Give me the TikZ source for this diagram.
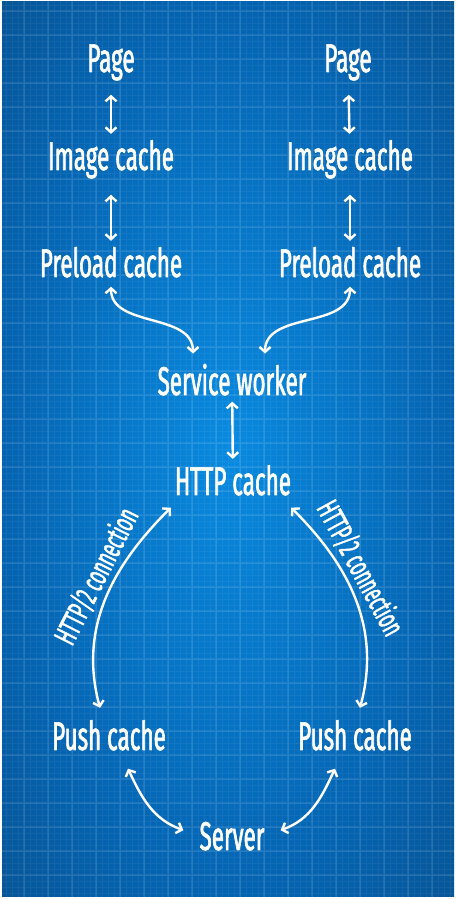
\documentclass[tikz,border=0pt]{standalone}
\usepackage{fontspec}
\setmainfont{Fira Sans}[FakeStretch=0.56,FakeBold=1.5]
\usetikzlibrary{arrows.meta}
\definecolor{bpA}{RGB}{8,138,224}
\definecolor{bpB}{RGB}{4,100,178}
\definecolor{bpC}{RGB}{8,68,120}
\definecolor{bpD}{RGB}{10,42,76}
\pgfdeclareradialshading{blueprint}{\pgfpoint{0bp}{0bp}}{color(0bp)=(bpA); color(17bp)=(bpB); color(34bp)=(bpC); color(50bp)=(bpD)}
\begin{document}
\begin{tikzpicture}[x=1pt,y=1pt,line join=round,line cap=round,
    >={Straight Barb[length=5pt,width=11pt]},
    every node/.style={text=white,inner sep=6pt},
    box/.style={font=\fontsize{40}{40}\selectfont,anchor=base},
    conn/.style={<->,draw=white,line width=2.4pt},
    lbl/.style={font=\fontsize{31}{31}\selectfont,sloped,above,inner sep=3pt}]
    \def\w{456}
    \def\h{899}
    \fill[white] (0,0) rectangle (\w,\h);
    \begin{scope}
        \clip (2,2) rectangle (\w-2,\h-2);
        \shade[shading=blueprint] (-94,-186.5) rectangle (550,1085.5);
        \draw[white,opacity=0.06,line width=0.8pt] (0,0) grid[step=6] (\w,\h);
        \draw[white,opacity=0.09,line width=1.2pt] (0,0) grid[step=24] (\w,\h);
    \end{scope}
    \node[box] (pageL) at (111,827) {Page};
    \node[box] (pageR) at (348,827) {Page};
    \node[box] (imgL) at (111,729) {Image cache};
    \node[box] (imgR) at (350,729) {Image cache};
    \node[box] (preL) at (111,622) {Preload cache};
    \node[box] (preR) at (350,622) {Preload cache};
    \node[box] (sw) at (232,504) {Service worker};
    \node[box] (http) at (233,404) {HTTP cache};
    \node[box] (pushL) at (109,149) {Push cache};
    \node[box] (pushR) at (355,149) {Push cache};
    \node[box] (server) at (232,49) {Server};
    \draw[conn,shorten <=8pt] (pageL) -- (imgL);
    \draw[conn,shorten <=8pt] (pageR) -- (imgR);
    \draw[conn,shorten <=10pt] (imgL) -- (preL);
    \draw[conn,shorten <=10pt] (imgR) -- (preR);
    \draw[conn] ([yshift=-3pt]preL.south) to[out=-90,in=90] ([xshift=-39pt,yshift=4pt]sw.north);
    \draw[conn] ([yshift=-3pt]preR.south) to[out=-90,in=90] ([xshift=33pt,yshift=4pt]sw.north);
    \draw[conn] (sw) -- (http);
    \draw[conn] ([xshift=2pt,yshift=-6pt]http.south west) to[out=225,in=105] node[lbl,pos=0.42] {HTTP/2 connection} ([xshift=-9pt,yshift=6pt]pushL.north);
    \draw[conn] ([xshift=-6pt,yshift=-6pt]http.south east) to[out=-45,in=75] node[lbl,pos=0.38] {HTTP/2 connection} ([xshift=5pt,yshift=6pt]pushR.north);
    \draw[conn] ([xshift=19pt,yshift=-12pt]pushL.south) to[out=-65,in=160] ([xshift=-10pt,yshift=6pt]server.west);
    \draw[conn] ([xshift=-20pt,yshift=-12pt]pushR.south) to[out=-115,in=20] ([xshift=10pt,yshift=6pt]server.east);
\end{tikzpicture}
\end{document}
